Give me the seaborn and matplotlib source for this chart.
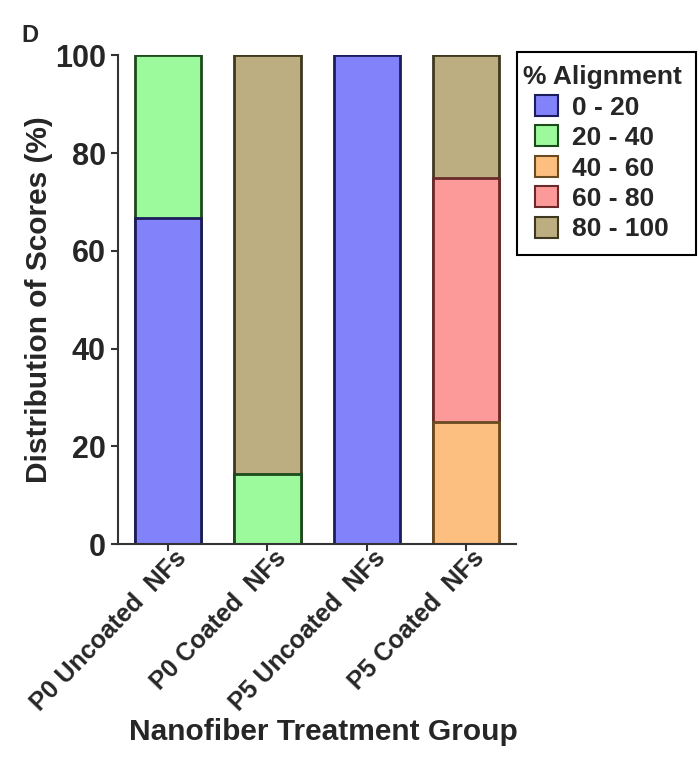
import numpy as np
import pandas as pd
import seaborn as sns
import matplotlib.pyplot as plt
import matplotlib.transforms as mtransforms
from matplotlib.patches import Patch, Rectangle

# dati (percentuale per fascia di allineamento)
groups = ["P0 Uncoated  NFs", "P0 Coated  NFs", "P5 Uncoated  NFs", "P5 Coated  NFs"]
bins = ["0 - 20", "20 - 40", "40 - 60", "60 - 80", "80 - 100"]
pct_0_20 = [66.7, 0, 100, 0]
pct_20_40 = [33.3, 14.3, 0, 0]
pct_40_60 = [0, 0, 0, 25]
pct_60_80 = [0, 0, 0, 50]
pct_80_100 = [0, 85.7, 0, 25]

fills = ["#8282fa", "#9cfa9c", "#fcbf80", "#fc9a9a", "#bcae80"]
edges = ["#1c1c5a", "#1c4a1c", "#6a4a20", "#6a2a2a", "#3e3820"]

sns.set_theme(style="ticks")
plt.rcParams['font.family'] = ['Liberation Sans', 'DejaVu Sans']
plt.rcParams['font.weight'] = 'bold'

df = pd.DataFrame({"group": groups, "0 - 20": pct_0_20, "20 - 40": pct_20_40,
                   "40 - 60": pct_40_60, "60 - 80": pct_60_80, "80 - 100": pct_80_100})
cum = df[bins].cumsum(axis=1)

fig = plt.figure(figsize=(7, 7.58), dpi=100)
ax = fig.add_axes([0.169, 0.282, 0.568, 0.645])

# barre sovrapposte: dalla somma cumulativa maggiore alla minore
for i in reversed(range(len(bins))):
    vals = cum[bins[i]].values
    mask = df[bins[i]].values > 0
    sns.barplot(x=df["group"], y=np.where(mask | (i == 0), vals, np.nan), color=fills[i],
                edgecolor=edges[i], linewidth=2, width=0.67, saturation=1, ax=ax, order=groups)

ax.set_ylim(0, 100)
ax.set_xlim(-0.5, 3.5)
ax.set_yticks([0, 20, 40, 60, 80, 100])
ax.tick_params(axis="y", labelsize=22, width=1.5, length=5, pad=4, color="#333333")
ax.tick_params(axis="x", labelsize=18, width=1.5, length=5, color="#333333")
for lab in ax.get_yticklabels():
    lab.set_fontweight("bold")
shift = mtransforms.ScaledTranslation(0.06, 0.10, fig.dpi_scale_trans)
for lab in ax.get_xticklabels():
    lab.set_rotation(46)
    lab.set_ha("right")
    lab.set_rotation_mode("anchor")
    lab.set_fontweight("bold")
    lab.set_transform(lab.get_transform() + shift)
ax.set_xlabel("Nanofiber Treatment Group", fontsize=21.5, fontweight="bold")
ax.xaxis.set_label_coords(0.515, -0.355)
ax.set_ylabel("Distribution of Scores (%)", fontsize=21.5, fontweight="bold")
ax.yaxis.set_label_coords(-0.165, 0.5)
sns.despine(ax=ax)
for s in ["left", "bottom"]:
    ax.spines[s].set_linewidth(1.5)
    ax.spines[s].set_color("#333333")

# legenda senza cornice + cornice disegnata a parte
handles = [Patch(facecolor=fills[i], edgecolor=edges[i], linewidth=1.5, label=bins[i]) for i in range(len(bins))]
leg = fig.legend(handles=handles, title="% Alignment", loc="upper left", bbox_to_anchor=(0.739, 0.921),
                 fontsize=19, title_fontproperties={"weight": "bold", "size": 19}, frameon=False,
                 handlelength=0.85, handleheight=0.85, handletextpad=0.55,
                 labelspacing=0.22, borderpad=0.2, borderaxespad=0)
for t in leg.get_texts():
    t.set_fontweight("bold")
fig.patches.append(Rectangle((0.739, 1 - 255 / 758), 179 / 700, 203 / 758, transform=fig.transFigure,
                             fill=False, edgecolor="black", linewidth=1.5))

fig.text(0.03, 0.945, "D", fontsize=17, fontweight="bold")

plt.savefig("out.png", dpi=100)
